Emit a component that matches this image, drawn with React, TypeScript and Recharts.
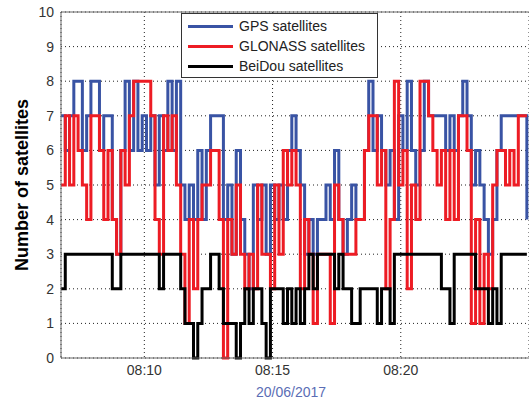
import { LineChart, Line, XAxis, YAxis, CartesianGrid, Legend, ReferenceLine } from "recharts";

// one sample every 10 s, starting 08:06:45 (minutes after 08:00)
const startMinute = 6.75;
const stepMinute = 1 / 6;

const gpsSatellites = [
  7, 6, 7, 8, 8, 6, 7, 8, 8, 6,
  7, 7, 4, 3, 6, 8, 6, 8, 6, 7,
  6, 7, 5, 7, 6, 8, 6, 8, 5, 4,
  5, 4, 6, 4, 6, 7, 7, 7, 4, 5,
  3, 6, 4, 3, 2, 5, 4, 5, 3, 5,
  4, 5, 4, 6, 7, 6, 5, 3, 4, 3,
  4, 4, 5, 4, 6, 4, 3, 4, 5, 4,
  4, 6, 8, 6, 7, 6, 5, 6, 4, 7,
  6, 8, 6, 5, 6, 8, 7, 7, 7, 7,
  6, 7, 6, 7, 8, 7, 5, 6, 5, 4,
  3, 4, 6, 7, 7, 7, 7, 7, 7, 4,
];

const glonassSatellites = [
  5, 7, 5, 7, 6, 5, 4, 7, 7, 6,
  4, 6, 4, 3, 6, 5, 7, 8, 8, 8,
  8, 7, 4, 3, 7, 6, 7, 5, 3, 1,
  4, 2, 4, 5, 5, 6, 6, 4, 0, 4,
  3, 5, 3, 2, 3, 2, 5, 3, 3, 2,
  5, 3, 6, 5, 6, 5, 2, 4, 3, 1,
  3, 3, 3, 1, 5, 4, 3, 3, 3, 4,
  4, 6, 7, 7, 5, 6, 2, 4, 8, 5,
  6, 2, 5, 4, 8, 8, 7, 6, 5, 6,
  4, 6, 4, 7, 7, 6, 1, 4, 1, 3,
  2, 5, 6, 6, 5, 6, 5, 7, 7, 7,
];

const beidouSatellites = [
  2, 3, 3, 3, 3, 3, 3, 3, 3, 3,
  3, 3, 2, 2, 3, 3, 3, 3, 3, 3,
  3, 3, 3, 2, 3, 3, 3, 3, 2, 1,
  1, 0, 1, 2, 2, 3, 3, 2, 1, 1,
  1, 0, 1, 2, 1, 2, 2, 1, 0, 2,
  2, 2, 1, 2, 1, 2, 1, 2, 3, 2,
  3, 3, 3, 3, 2, 3, 2, 2, 1, 1,
  2, 2, 2, 2, 1, 2, 2, 1, 3, 3,
  3, 3, 3, 3, 3, 3, 3, 3, 3, 2,
  2, 1, 3, 3, 3, 3, 3, 2, 2, 2,
  1, 2, 1, 3, 3, 3, 3, 3, 3, 3,
];

const timeTicks = [10, 15, 20];
const countTicks = [0, 1, 2, 3, 4, 5, 6, 7, 8, 9, 10];
const dateLabel = "20/06/2017";

const seriesInfo = [
  { key: "gps", name: "GPS satellites", color: "#3953a4" },
  { key: "glonass", name: "GLONASS satellites", color: "#ed1c24" },
  { key: "beidou", name: "BeiDou satellites", color: "#000000" },
];

const data = gpsSatellites.map((gps, i) => ({
  t: startMinute + i * stepMinute,
  gps,
  glonass: glonassSatellites[i],
  beidou: beidouSatellites[i],
}));

const font = "'Liberation Sans', Arial, sans-serif";

const LegendBox = () => (
  <div
    style={{
      width: 197,
      height: 65,
      boxSizing: "border-box",
      border: "1px solid #333",
      background: "#fff",
      paddingTop: 2,
      fontFamily: font,
      fontSize: 14,
      color: "#222",
    }}
  >
    {seriesInfo.map((s) => (
      <div key={s.key} style={{ display: "flex", alignItems: "center", height: 20 }}>
        <span style={{ display: "inline-block", width: 45, height: 3, background: s.color, marginLeft: 6, marginRight: 6 }} />
        <span>{s.name}</span>
      </div>
    ))}
  </div>
);

export default function App() {
  return (
    <div style={{ position: "absolute", left: 0, top: 0, width: 529, height: 400, background: "#fff", fontFamily: font }}>
      <LineChart width={529} height={400} data={data} margin={{ top: 12, right: 0, bottom: 0, left: 0 }}>
        <CartesianGrid strokeDasharray="1 3" stroke="#222" />
        <XAxis
          dataKey="t"
          type="number"
          domain={[6.75, 25]}
          ticks={timeTicks}
          tickFormatter={(v) => `08:${v}`}
          allowDataOverflow
          height={42}
          tickSize={0}
          tickMargin={7}
          stroke="#666"
          tick={{ fill: "#333", fontSize: 14 }}
          label={{ value: dateLabel, position: "insideBottom", offset: 3, fill: "#5b6db5", fontSize: 14, dx: -4 }}
        />
        <YAxis
          type="number"
          domain={[0, 10]}
          ticks={countTicks}
          width={61}
          tickSize={0}
          tickMargin={7}
          stroke="#666"
          tick={{ fill: "#333", fontSize: 14 }}
        />
        <ReferenceLine y={10} stroke="#666" />
        {seriesInfo.map((s) => (
          <Line
            key={s.key}
            type="stepAfter"
            dataKey={s.key}
            name={s.name}
            stroke={s.color}
            strokeWidth={3}
            dot={false}
            isAnimationActive={false}
          />
        ))}
        <Legend
          layout="vertical"
          verticalAlign="middle"
          align="center"
          content={() => <LegendBox />}
          wrapperStyle={{ left: 181, top: 13, width: 197 }}
        />
      </LineChart>
      <div
        style={{
          position: "absolute",
          left: 22,
          top: 185,
          transform: "translate(-50%, -50%) rotate(-90deg)",
          whiteSpace: "nowrap",
          fontWeight: "bold",
          fontSize: 18,
          color: "#000",
        }}
      >
        Number of satellites
      </div>
    </div>
  );
}
